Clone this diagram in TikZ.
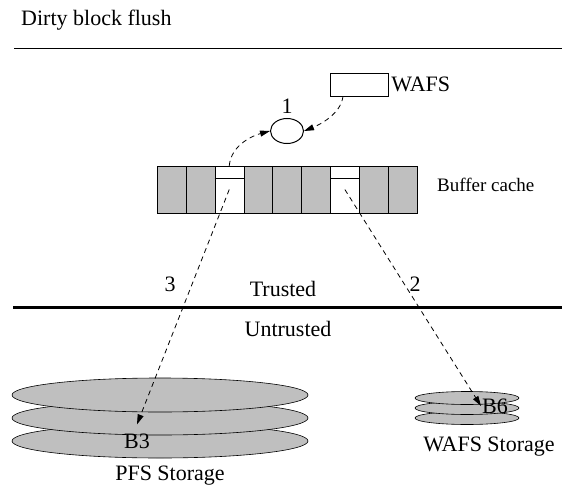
\documentclass[tikz,border=0pt]{standalone}
\usepackage{fontspec}
\setmainfont{Liberation Serif}
\usetikzlibrary{arrows.meta,shapes.geometric,positioning}

\begin{document}
\begin{tikzpicture}
[
	x	= 1pt,	% one unit for one pixel of the picture
	y	= -1pt,	% y runs downwards, as in the picture
	%
	%
	% ----------- options for the parts --------------
	every node/.style =
	{
		font		= \fontsize{22}{26}\selectfont,
		inner sep	= 1pt
	},
	%
	cell/.style =
	{
		draw,
		fill			= black!25,
		minimum width	= 28.9pt,
		minimum height	= 47pt,
		inner sep		= 0pt
	},
	%
	freecell/.style =
	{
		cell,
		fill	= white
	},
	%
	disk/.style =
	{
		draw,
		fill		= black!25,
		line width	= 0.6pt
	},
	%
	flow/.style =
	{
		draw,
		dash pattern	= on 5pt off 4pt,
		line width		= 0.8pt,
		-{Triangle[length=10pt,width=6pt]}
	}
]

\useasboundingbox (0,0) rectangle (562,487);

% title and rules
\node[anchor=west] (title) at (20,20) {Dirty block flush};
\draw[line width=0.8pt] (14,48) -- (562,48);
\draw[line width=3pt] (13,307) -- (562,307);

% wafs and the hub
\node[draw, minimum width=58pt, minimum height=23pt, inner sep=0pt] (wafsbox) at (359,84.5) {};
\node[anchor=west, xshift=2pt] (wafs) at (wafsbox.east) {WAFS};
\node[draw, ellipse, minimum width=33pt, minimum height=25pt, inner sep=0pt, line width=1pt] (hub) at (287,131) {};
\node[above=3pt of hub] (one) {1};

% buffer cache
\foreach \i/\kind in {1/cell,2/cell,3/freecell,4/cell,5/cell,6/cell,7/freecell,8/cell,9/cell}
{
	\node[\kind] (c\i) at (142.55+28.9*\i,189.5) {};
}
\draw ([yshift=-12pt]c3.north west) -- ([yshift=-12pt]c3.north east);
\draw ([yshift=-12pt]c7.north west) -- ([yshift=-12pt]c7.north east);
\node[anchor=west, font=\fontsize{19}{22}\selectfont] (cache) at (436,185) {Buffer cache};

% zones
\node (three) at (170,284) {3};
\node (trusted) at (283,289) {Trusted};
\node (two) at (415,284) {2};
\node (untrusted) at (288,329) {Untrusted};

% storage
\foreach \y in {441,418,395}
{
	\draw[disk] (160,\y) ellipse [x radius=148, y radius=17];
}
\foreach \y in {418,408,398}
{
	\draw[disk] (467,\y) ellipse [x radius=52, y radius=6.5];
}
\node (b3) at (137,441) {B3};
\node (pfs) at (170,476) {PFS Storage};
\node (b6) at (495,406) {B6};
\node (wafsdisk) at (489,447) {WAFS Storage};

% flows
\draw[flow] (c3.north) .. controls +(2,-22) and +(-15,4) .. (hub.west);
\draw[flow] ([xshift=-16pt]wafsbox.south) .. controls +(-2,18) and +(15,-6) .. (hub.east);
\draw[flow] (c3.center) -- ([yshift=8pt]b3.north);
\draw[flow] (c7.center) -- (b6.west);

\end{tikzpicture}
\end{document}
